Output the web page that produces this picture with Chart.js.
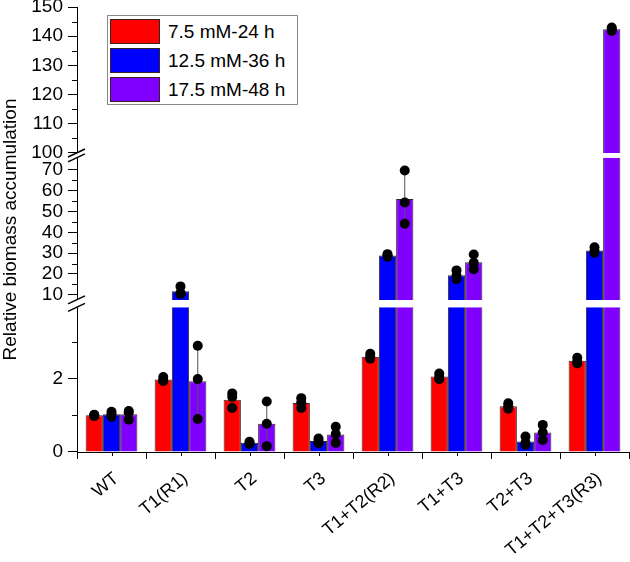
<!DOCTYPE html>
<html><head><meta charset="utf-8">
<script src="https://cdn.jsdelivr.net/npm/chart.js@4.4.1/dist/chart.umd.min.js"></script>
<style>
html,body{margin:0;padding:0;background:#fff;}
#wrap{position:relative;width:630px;height:562px;}
#legend{position:absolute;left:107px;top:15px;width:189px;height:88px;border:1px solid #8a8a8a;background:#fff;font-family:'Liberation Sans',Arial,sans-serif;font-size:19px;color:#000;}
.item{position:absolute;left:2px;height:25px;display:flex;align-items:center;white-space:nowrap;}
.sw{width:48px;height:23px;border:1px solid #3a2020;margin-right:8px;}
</style></head>
<body>
<div id="wrap">
<canvas id="c" width="630" height="562"></canvas>
<div id="legend"></div>
</div>
<script>
const CATEGORIES = ['WT','T1(R1)','T2','T3','T1+T2(R2)','T1+T3','T2+T3','T1+T2+T3(R3)'];
const SERIES_LABELS = ['7.5 mM-24 h','12.5 mM-36 h','17.5 mM-48 h'];
const SERIES_COLORS = ['#ff0000','#0000ff','#8000ff'];

const RED    = [1.00, 1.98, 1.43, 1.34, 2.60, 2.06, 1.25, 2.49];
const BLUE   = [1.03, 11.7, 0.25, 0.30, 28.8, 19.3, 0.29, 31.3];
const PURPLE = [1.03, 1.93, 0.77, 0.48, 56.0, 25.6, 0.53, 142.4];

const RED_REPS    = [[0.98,1.0,1.02],[2.05,1.95,1.94],[1.6,1.5,1.2],[1.47,1.35,1.2],[2.68,2.6,2.55],[2.14,2.05,1.99],[1.33,1.25,1.18],[2.57,2.47,2.42]];
const BLUE_REPS   = [[1.1,1.03,0.96],[14.0,10.8,10.4],[0.28,0.22,0.24],[0.37,0.3,0.24],[29.5,28.8,28.2],[21.7,19.1,17.5],[0.42,0.25,0.19],[32.8,31.0,30.2]];
const PURPLE_REPS = [[1.12,1.08,0.88],[2.9,1.99,0.9],[1.38,0.77,0.16],[0.69,0.49,0.25],[69.7,54.3,44.1],[29.3,25.3,22.3],[0.74,0.53,0.33],[143.0,142.3,141.8]];

const TOP_TICKS = [100,105,110,115,120,125,130,135,140,145,150];
const MID_TICKS = [10,15,20,25,30,35,40,45,50,55,60,65,70];
const BOT_TICKS = [0,1,2,3];
const BOT_LABELED = [0,2];

const MEANS = [RED, BLUE, PURPLE];
const REPS = [RED_REPS, BLUE_REPS, PURPLE_REPS];

const SEGMENTS = [
  {id:'yBot', min:0,    max:4.05, barFrom:0,   barTo:3.95, ticks:BOT_TICKS, lab:v=>BOT_LABELED.includes(v)},
  {id:'yMid', min:5.7,  max:77,   barFrom:7.5, barTo:75.8, ticks:MID_TICKS, lab:v=>v%10===0},
  {id:'yTop', min:99.2, max:150,  barFrom:100, barTo:150,  ticks:TOP_TICKS, lab:v=>v%10===0}
];
function segFor(v){ return v >= SEGMENTS[2].barFrom ? SEGMENTS[2] : (v >= SEGMENTS[1].barFrom ? SEGMENTS[1] : SEGMENTS[0]); }

const FONT = "'Liberation Sans', Arial, Helvetica, sans-serif";
Chart.defaults.font.family = FONT;
Chart.defaults.font.size = 19;
Chart.defaults.color = '#000';

const datasets = [];
SEGMENTS.forEach(seg => {
  MEANS.forEach((vals, s) => {
    datasets.push({
      label: SERIES_LABELS[s] + ' ' + seg.id,
      yAxisID: seg.id,
      stack: 'S' + s,
      data: vals.map(v => v <= seg.barFrom ? null : [seg.barFrom, Math.min(v, seg.barTo)]),
      backgroundColor: SERIES_COLORS[s],
      borderColor: 'rgba(20,0,0,0.85)',
      borderSkipped: false,
      borderWidth: ctx => {
        const v = vals[ctx.dataIndex];
        return {left:1, right:1, bottom:0, top: v > seg.barTo ? 0 : 1};
      },
      barPercentage: 1.0,
      categoryPercentage: 0.75
    });
  });
});

function yScale(seg, withTitle){
  return {
    type:'linear', position:'left', stack:'ys', stackWeight:1,
    min: seg.min, max: seg.max, stacked:false,
    afterBuildTicks: sc => { sc.ticks = seg.ticks.map(v => ({value:v})); },
    afterFit: sc => { sc.width = 77; sc.paddingTop = 0; sc.paddingBottom = 0; },
    ticks: { autoSkip:false, padding:5, color:'#000', font:{size:19}, callback: v => seg.lab(v) ? String(v) : '' },
    grid: { drawOnChartArea:false, drawTicks:true, tickLength:9, tickWidth:1,
            tickColor: ctx => (ctx.tick && seg.lab(ctx.tick.value)) ? '#000' : 'rgba(0,0,0,0)' },
    border: { display:true, color:'#000', width:1 },
    title: withTitle ? { display:true, text:'Relative biomass accumulation', color:'#000', font:{size:19, lineHeight:1}, padding:{top:1,bottom:0} } : {display:false}
  };
}

const overlay = {
  id:'overlay',
  afterDatasetsDraw(chart){
    const c = chart.ctx;
    c.save();
    for (let s=0; s<3; s++){
      const meta = chart.getDatasetMeta(s);
      for (let i=0; i<CATEGORIES.length; i++){
        const x = meta.data[i].x;
        const reps = REPS[s][i];
        const m = MEANS[s][i];
        const sd = Math.sqrt(reps.reduce((a,r)=>a+(r-m)*(r-m),0)/(reps.length-1));
        const seg = segFor(m);
        const sc = chart.scales[seg.id];
        const lo = Math.max(m-sd, seg.barFrom), hi = Math.min(m+sd, seg.barTo);
        c.strokeStyle = '#555'; c.lineWidth = 1;
        c.beginPath(); c.moveTo(x, sc.getPixelForValue(lo)); c.lineTo(x, sc.getPixelForValue(hi)); c.stroke();
        c.fillStyle = '#000';
        for (const r of reps){
          const sg = segFor(r);
          const y = chart.scales[sg.id].getPixelForValue(r);
          c.beginPath(); c.arc(x, y, 5, 0, Math.PI*2); c.fill();
        }
      }
    }
    c.restore();
  },
  afterDraw(chart){
    const c = chart.ctx;
    const xa = chart.chartArea.left;
    c.save();
    c.strokeStyle = '#000'; c.lineWidth = 1;
    SEGMENTS.forEach(seg => {
      const sc = chart.scales[seg.id];
      sc.ticks.forEach(t => {
        if (!seg.lab(t.value)) {
          const y = Math.round(sc.getPixelForValue(t.value)) + 0.5;
          c.beginPath(); c.moveTo(xa-5, y); c.lineTo(xa, y); c.stroke();
        }
      });
    });
    const xs = chart.scales.x;
    const yb = chart.chartArea.bottom;
    for (let i=0; i<CATEGORIES.length; i++){
      const px = Math.round(xs.getPixelForValue(i)) + 0.5;
      c.beginPath(); c.moveTo(px, yb); c.lineTo(px, yb+4); c.stroke();
    }
    const pairs = [
      [chart.scales.yTop.getPixelForValue(SEGMENTS[2].barFrom), chart.scales.yMid.getPixelForValue(SEGMENTS[1].barTo)],
      [chart.scales.yMid.getPixelForValue(SEGMENTS[1].barFrom), chart.scales.yBot.getPixelForValue(SEGMENTS[0].barTo)]
    ];
    pairs.forEach(([y1, y2]) => {
      c.fillStyle = '#fff';
      c.fillRect(xa-3, y1, 6, y2-y1);
      c.lineWidth = 1.5;
      [y1, y2].forEach(y => {
        c.beginPath(); c.moveTo(xa-9, y+4); c.lineTo(xa+8, y-4); c.stroke();
      });
    });
    c.restore();
  }
};

new Chart(document.getElementById('c'), {
  type:'bar',
  data:{ labels: CATEGORIES, datasets },
  options:{
    responsive:false, animation:false,
    layout:{ padding:{ top:7, right:1, left:0, bottom:0 } },
    plugins:{ legend:{display:false}, tooltip:{enabled:false} },
    scales:{
      x:{
        type:'category', offset:true,
        afterFit: sc => { sc.height = 110; sc.paddingLeft = 0; sc.paddingRight = 0; },
        ticks:{ autoSkip:false, maxRotation:40, minRotation:40, padding:9, labelOffset:5, color:'#000', font:{size:18} },
        grid:{ offset:true, drawOnChartArea:false, drawTicks:true, tickLength:7, color:'#000' },
        border:{ display:true, color:'#000', width:1 }
      },
      yBot: yScale(SEGMENTS[0], false),
      yMid: yScale(SEGMENTS[1], true),
      yTop: yScale(SEGMENTS[2], false)
    }
  },
  plugins:[overlay]
});

const lg = document.getElementById('legend');
SERIES_LABELS.forEach((lab, s) => {
  const it = document.createElement('div');
  it.className = 'item';
  it.style.top = (3 + s*29) + 'px';
  const sw = document.createElement('div');
  sw.className = 'sw'; sw.style.background = SERIES_COLORS[s];
  const tx = document.createElement('span'); tx.textContent = lab;
  it.appendChild(sw); it.appendChild(tx);
  lg.appendChild(it);
});
</script>
</body></html>
